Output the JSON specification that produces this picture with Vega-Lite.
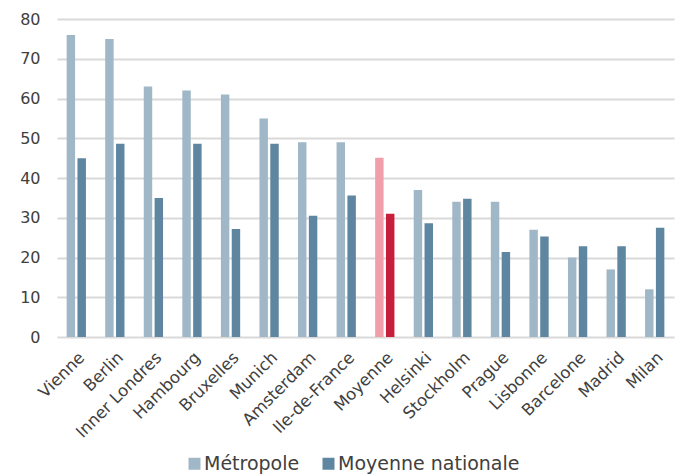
{
  "$schema": "https://vega.github.io/schema/vega-lite/v6.json",
  "autosize": "none",
  "width": 617,
  "height": 318,
  "padding": {"left": 57, "top": 19, "right": 4, "bottom": 137},
  "background": "white",
  "config": {
    "font": "DejaVu Sans",
    "view": {"stroke": null},
    "axis": {"labelColor": "#404040", "domain": false, "ticks": false, "title": null}
  },
  "data": {
    "values": [
      {"ville": "Vienne", "serie": "Métropole", "valeur": 76},
      {"ville": "Vienne", "serie": "Moyenne nationale", "valeur": 45},
      {"ville": "Berlin", "serie": "Métropole", "valeur": 75},
      {"ville": "Berlin", "serie": "Moyenne nationale", "valeur": 48.6},
      {"ville": "Inner Londres", "serie": "Métropole", "valeur": 63},
      {"ville": "Inner Londres", "serie": "Moyenne nationale", "valeur": 35},
      {"ville": "Hambourg", "serie": "Métropole", "valeur": 62},
      {"ville": "Hambourg", "serie": "Moyenne nationale", "valeur": 48.6},
      {"ville": "Bruxelles", "serie": "Métropole", "valeur": 61},
      {"ville": "Bruxelles", "serie": "Moyenne nationale", "valeur": 27.2},
      {"ville": "Munich", "serie": "Métropole", "valeur": 55},
      {"ville": "Munich", "serie": "Moyenne nationale", "valeur": 48.6},
      {"ville": "Amsterdam", "serie": "Métropole", "valeur": 49},
      {"ville": "Amsterdam", "serie": "Moyenne nationale", "valeur": 30.5},
      {"ville": "Ile-de-France", "serie": "Métropole", "valeur": 49},
      {"ville": "Ile-de-France", "serie": "Moyenne nationale", "valeur": 35.6},
      {"ville": "Moyenne", "serie": "Métropole", "valeur": 45.1},
      {"ville": "Moyenne", "serie": "Moyenne nationale", "valeur": 31},
      {"ville": "Helsinki", "serie": "Métropole", "valeur": 37},
      {"ville": "Helsinki", "serie": "Moyenne nationale", "valeur": 28.6},
      {"ville": "Stockholm", "serie": "Métropole", "valeur": 34},
      {"ville": "Stockholm", "serie": "Moyenne nationale", "valeur": 34.8},
      {"ville": "Prague", "serie": "Métropole", "valeur": 34},
      {"ville": "Prague", "serie": "Moyenne nationale", "valeur": 21.4},
      {"ville": "Lisbonne", "serie": "Métropole", "valeur": 27},
      {"ville": "Lisbonne", "serie": "Moyenne nationale", "valeur": 25.3},
      {"ville": "Barcelone", "serie": "Métropole", "valeur": 20},
      {"ville": "Barcelone", "serie": "Moyenne nationale", "valeur": 22.8},
      {"ville": "Madrid", "serie": "Métropole", "valeur": 17},
      {"ville": "Madrid", "serie": "Moyenne nationale", "valeur": 22.8},
      {"ville": "Milan", "serie": "Métropole", "valeur": 12},
      {"ville": "Milan", "serie": "Moyenne nationale", "valeur": 27.5}
    ]
  },
  "mark": {"type": "bar"},
  "encoding": {
    "x": {
      "field": "ville",
      "type": "nominal",
      "sort": null,
      "scale": {"paddingInner": 0.5, "paddingOuter": 0.25},
      "axis": {"labelAngle": -45, "labelFontSize": 16.5, "labelPadding": 12, "grid": false, "labelLimit": 0}
    },
    "xOffset": {
      "field": "serie",
      "type": "nominal",
      "sort": ["Métropole", "Moyenne nationale"],
      "scale": {"domain": ["Métropole", "Moyenne nationale"], "paddingInner": 0.22}
    },
    "y": {
      "field": "valeur",
      "type": "quantitative",
      "scale": {"domain": [0, 80]},
      "axis": {"values": [0, 10, 20, 30, 40, 50, 60, 70, 80], "labelFontSize": 16, "labelPadding": 17, "gridColor": "#d9d9d9", "gridWidth": 2}
    },
    "color": {
      "field": "serie",
      "type": "nominal",
      "scale": {"domain": ["Métropole", "Moyenne nationale"], "range": ["#a0b7c7", "#5e86a0"]},
      "legend": {
        "title": null,
        "orient": "none",
        "direction": "horizontal",
        "legendX": 128,
        "legendY": 435,
        "symbolType": "square",
        "symbolSize": 144,
        "symbolStrokeWidth": 0,
        "labelFontSize": 19,
        "labelColor": "#404040",
        "labelOffset": 0,
        "labelLimit": 0,
        "columnPadding": 19
      },
      "condition": [
        {"test": "datum.ville === 'Moyenne' && datum.serie === 'Métropole'", "value": "#f19eab"},
        {"test": "datum.ville === 'Moyenne' && datum.serie === 'Moyenne nationale'", "value": "#c71e3b"}
      ]
    }
  }
}
